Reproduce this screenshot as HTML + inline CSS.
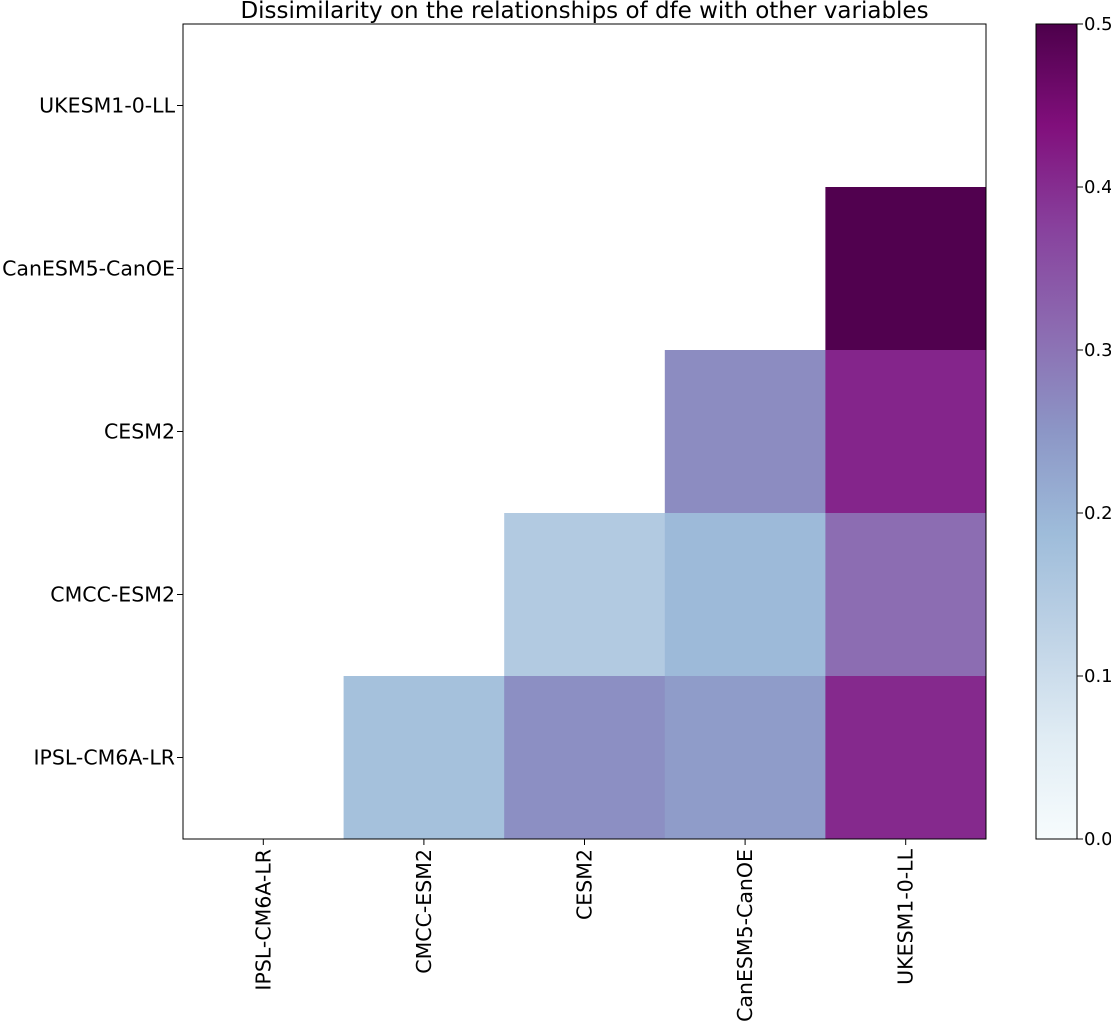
<!DOCTYPE html>
<html><head><meta charset="utf-8"><style>
body{margin:0;background:#fff;}
svg{display:block;font-family:"DejaVu Sans","Liberation Sans",sans-serif;}
</style></head><body>
<svg id="chart" width="1111" height="1024"></svg>
<script>
const rowLabels=["UKESM1-0-LL","CanESM5-CanOE","CESM2","CMCC-ESM2","IPSL-CM6A-LR"];
const colLabels=["IPSL-CM6A-LR","CMCC-ESM2","CESM2","CanESM5-CanOE","UKESM1-0-LL"];
const rowUKESM=[null,null,null,null,null];
const rowCanESM=[null,null,null,null,0.495];
const rowCESM=[null,null,null,0.265,0.41];
const rowCMCC=[null,null,0.15,0.19,0.31];
const rowIPSL=[null,0.175,0.26,0.24,0.405];
const values=[rowUKESM,rowCanESM,rowCESM,rowCMCC,rowIPSL];
const cbTicks=[0,0.1,0.2,0.3,0.4,0.5];
const vmin=0,vmax=0.5;
const stops=["#f7fcfd","#e0ecf4","#bfd3e6","#9ebcda","#8c96c6","#8c6bb1","#88419d","#810f7c","#4d004b"];
const NS="http://www.w3.org/2000/svg";
const svg=document.getElementById('chart');
const L=183,R=986,T=24,B=839;
const cw=(R-L)/colLabels.length,rh=(B-T)/rowLabels.length;
function hex(c){return [1,3,5].map(i=>parseInt(c.substr(i,2),16));}
function cmap(v){let t=Math.max(0,Math.min(1,(v-vmin)/(vmax-vmin)))*(stops.length-1);let i=Math.min(Math.floor(t),stops.length-2),f=t-i;const a=hex(stops[i]),b=hex(stops[i+1]);return `rgb(${a.map((x,k)=>Math.round(x+(b[k]-x)*f)).join(',')})`;}
function xS(i){return L+i*cw;}
function yS(j){return T+j*rh;}
function el(tag,attrs,text){const e=document.createElementNS(NS,tag);for(const k in attrs)e.setAttribute(k,attrs[k]);if(text!==undefined)e.textContent=text;svg.appendChild(e);return e;}
values.forEach((row,j)=>row.forEach((v,i)=>{if(v==null)return;
 const r=el('rect',{x:xS(i),y:yS(j),width:cw+0.5,height:rh+0.5,fill:cmap(v)});
 
 
}));
const frame=el('rect',{x:L,y:T,width:R-L,height:B-T,fill:'none',stroke:'#000','stroke-width':1});


rowLabels.forEach((s,j)=>{const y=yS(j)+rh/2;
 el('line',{x1:L-6,x2:L,y1:y,y2:y,stroke:'#000'});
 const t=el('text',{x:L-8,y:y+7,'text-anchor':'end','font-size':20.5},s);
 
 
});
colLabels.forEach((s,i)=>{const x=xS(i)+cw/2;
 el('line',{x1:x,x2:x,y1:B,y2:B+6,stroke:'#000'});
 const t=el('text',{x:0,y:0,'text-anchor':'end','font-size':20.5,transform:`translate(${x+7},${B+10}) rotate(-90)`},s);
 
 
});
const title=el('text',{x:(L+R)/2,y:18,'text-anchor':'middle','font-size':23},'Dissimilarity on the relationships of dfe with other variables');


const CL=1036,CR=1077;
const defs=el('defs',{});
const g=document.createElementNS(NS,'linearGradient');g.setAttribute('id','cb');g.setAttribute('x1','0');g.setAttribute('y1','1');g.setAttribute('x2','0');g.setAttribute('y2','0');
stops.forEach((c,i)=>{const s=document.createElementNS(NS,'stop');s.setAttribute('offset',i/(stops.length-1));s.setAttribute('stop-color',c);g.appendChild(s);});
defs.appendChild(g);
const cb=el('rect',{x:CL,y:T,width:CR-CL,height:B-T,fill:'url(#cb)',stroke:'#000','stroke-width':1});


function cy(v){return B-(v-vmin)/(vmax-vmin)*(B-T);}
cbTicks.forEach(v=>{const y=cy(v);
 el('line',{x1:CR,x2:CR+6,y1:y,y2:y,stroke:'#000'});
 const t=el('text',{x:CR+7,y:y+6,'font-size':18},v.toFixed(1));
 
 
});
</script>
</body></html>
